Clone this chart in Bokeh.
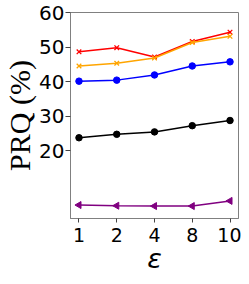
import numpy as np
from bokeh.plotting import figure
from bokeh.models import Range1d, FixedTicker
from bokeh.embed import file_html
from bokeh.resources import INLINE

categories = ["1", "2", "4", "8", "10"]
red_vals = [48.6, 49.8, 47.1, 51.6, 54.3]
orange_vals = [44.5, 45.3, 46.8, 51.3, 53.1]
blue_vals = [40.1, 40.4, 41.9, 44.5, 45.7]
black_vals = [23.7, 24.7, 25.4, 27.2, 28.7]
purple_vals = [4.2, 4.0, 3.9, 3.9, 5.4]
y_ticks = [20, 30, 40, 50, 60]

xs = list(range(len(categories)))

p = figure(width=241, height=276, output_backend="svg", toolbar_location=None,
           x_range=Range1d(-0.225, 4.225), y_range=Range1d(0.3, 60),
           min_border_left=10, min_border_right=3, min_border_top=12, min_border_bottom=10)
p.xgrid.visible = False
p.ygrid.visible = False
p.outline_line_color = "#808080"
p.outline_line_width = 1

series = [
    (red_vals, "red", "x"),
    (orange_vals, "orange", "x"),
    (blue_vals, "blue", "circle"),
    (black_vals, "black", "circle"),
    (purple_vals, "purple", "triangle"),
]
for vals, col, mk in series:
    p.line(xs, vals, line_color=col, line_width=1.5)
    if mk == "x":
        p.scatter(xs, vals, marker="x", size=6.5, line_color=col, line_width=1.3)
    elif mk == "circle":
        p.scatter(xs, vals, marker="circle", size=6.5, line_color=col, fill_color=col)
    else:
        p.scatter(xs, vals, marker="triangle", size=7, angle=np.pi / 2,
                  line_color=col, fill_color=col)

p.xaxis.ticker = FixedTicker(ticks=xs)
p.xaxis.major_label_overrides = {i: c for i, c in enumerate(categories)}
p.yaxis.ticker = FixedTicker(ticks=y_ticks)

for ax in (p.xaxis[0], p.yaxis[0]):
    ax.axis_line_color = "#808080"
    ax.major_tick_line_color = "#444444"
    ax.major_tick_in = 0
    ax.minor_tick_line_color = None
    ax.major_label_text_font = "DejaVu Sans"
    ax.major_label_text_color = "black"
    ax.axis_label_text_color = "black"

p.yaxis.major_tick_out = 5
p.yaxis.major_label_text_font_size = "20px"
p.yaxis.major_label_standoff = 1
p.xaxis.major_tick_out = 4
p.xaxis.major_label_text_font_size = "19px"
p.xaxis.major_label_standoff = 5

p.yaxis.axis_label = "PRQ (%)"
p.yaxis.axis_label_text_font = "Liberation Serif"
p.yaxis.axis_label_text_font_style = "normal"
p.yaxis.axis_label_text_font_size = "30px"
p.yaxis.axis_label_standoff = 0
p.xaxis.axis_label = "ε"
p.xaxis.axis_label_text_font = "DejaVu Sans"
p.xaxis.axis_label_text_font_style = "italic"
p.xaxis.axis_label_text_font_size = "27px"
p.xaxis.axis_label_standoff = -2

open("out.html", "w").write(file_html(p, INLINE))
